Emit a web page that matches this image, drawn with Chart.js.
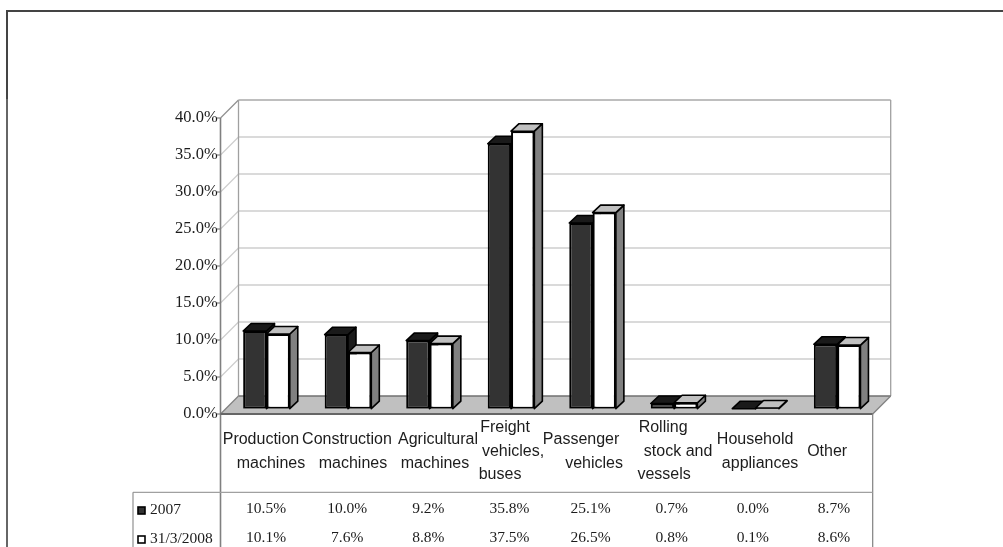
<!DOCTYPE html>
<html>
<head>
<meta charset="utf-8">
<title>Market shares by product group</title>
<script src="https://cdn.jsdelivr.net/npm/chart.js@4"></script>
<style>
  html, body { margin: 0; padding: 0; background: #fff; }
  canvas { display: block; }
</style>
</head>
<body>
<canvas id="shareChart" width="1003" height="547"></canvas>
<script>
// ─── Data ──────────────────────────────────────────────────────────────────────
const categories = [
  ['Production', 'machines'],
  ['Construction', 'machines'],
  ['Agricultural', 'machines'],
  ['Freight', 'vehicles,', 'buses'],
  ['Passenger', 'vehicles'],
  ['Rolling', 'stock and', 'vessels'],
  ['Household', 'appliances'],
  ['Other']
];
const seriesNames = ['2007', '31/3/2008'];
const values2007 = [10.5, 10.0, 9.2, 35.8, 25.1, 0.7, 0.0, 8.7];
const values2008 = [10.1, 7.6, 8.8, 37.5, 26.5, 0.8, 0.1, 8.6];
const yTicks = [0, 5, 10, 15, 20, 25, 30, 35, 40];

// Hand-set line offsets of the category captions, they don't sit centred
const captionShifts = [
  [-5.5, 4.5], [-1, 5], [8.5, 5.5], [-6, 2, -11],
  [-11.5, 1.5], [-11, 4, -10], [-0.5, 4.5], [-10]
];

// ─── Layout ────────────────────────────────────────────────────────────────────
const WALL_DX = 18, WALL_DY = 18;     // depth of the floor and side wall
const BAR_INSET_X = 5.2, BAR_INSET_Y = 5.3;  // bars stand inside the floor
const BAR_DX = 8, BAR_DY = 7.5;       // depth of each bar
const TABLE_RIGHT = 872.7, TABLE_LEFT = 133, TABLE_LINE_Y = 492.3;
const ROW_Y = [509, 538];

const SERIF = '"Liberation Serif", serif';
const SANS = '"Liberation Sans", sans-serif';
const TEXT = '#1c1c1c';

const faces = [
  { front: '#333333', top: '#1a1a1a', side: '#1a1a1a' },
  { front: '#ffffff', top: '#c0c0c0', side: '#808080' }
];

function line(ctx, x1, y1, x2, y2, color, width) {
  ctx.beginPath();
  ctx.moveTo(x1, y1);
  ctx.lineTo(x2, y2);
  ctx.strokeStyle = color;
  ctx.lineWidth = width;
  ctx.stroke();
}

function poly(ctx, pts, fill) {
  ctx.beginPath();
  pts.forEach((p, i) => i ? ctx.lineTo(p[0], p[1]) : ctx.moveTo(p[0], p[1]));
  ctx.closePath();
  ctx.fillStyle = fill;
  ctx.fill();
  ctx.strokeStyle = '#000';
  ctx.lineWidth = 1.6;
  ctx.lineJoin = 'round';
  ctx.stroke();
}

// ─── Outer frame, walls and floor ──────────────────────────────────────────────
const backdropPlugin = {
  id: 'backdrop',
  beforeDatasetsDraw(chart) {
    const { ctx, chartArea: area, scales } = chart;
    const left = area.left - BAR_INSET_X;
    const right = area.right - BAR_INSET_X;
    const floorY = area.bottom + BAR_INSET_Y;
    const y = scales.y;

    ctx.save();
    line(ctx, 6, 11, 1003, 11, '#444', 2);
    line(ctx, 7, 10, 7, 99, '#444', 2);
    line(ctx, 7, 99, 7, 547, '#666', 2);

    // gridlines run along the back wall and down the side wall
    yTicks.forEach(v => {
      const py = y.getPixelForValue(v) + BAR_INSET_Y;
      if (v > 0) {
        line(ctx, left + WALL_DX, py - WALL_DY, right + WALL_DX, py - WALL_DY, v === 40 ? '#a8a8a8' : '#cecece', 1.5);
        line(ctx, left, py, left + WALL_DX, py - WALL_DY, v === 40 ? '#909090' : '#cecece', 1.3);
      }
      line(ctx, left - 3.5, py, left, py, '#808080', 1.2);
    });

    const topBack = y.getPixelForValue(40) + BAR_INSET_Y - WALL_DY;
    line(ctx, left + WALL_DX, topBack, left + WALL_DX, floorY - WALL_DY, '#a0a0a0', 1.3);
    line(ctx, right + WALL_DX, topBack, right + WALL_DX, floorY - WALL_DY, '#a0a0a0', 1.3);

    ctx.beginPath();
    ctx.moveTo(left, floorY);
    ctx.lineTo(left + WALL_DX, floorY - WALL_DY);
    ctx.lineTo(right + WALL_DX, floorY - WALL_DY);
    ctx.lineTo(right, floorY);
    ctx.closePath();
    ctx.fillStyle = '#c0c0c0';
    ctx.fill();
    line(ctx, left + WALL_DX, floorY - WALL_DY, right + WALL_DX, floorY - WALL_DY, '#707070', 1.5);
    line(ctx, right, floorY, right + WALL_DX, floorY - WALL_DY, '#808080', 1.2);
    line(ctx, left, floorY, left + WALL_DX, floorY - WALL_DY, '#808080', 1.2);
    line(ctx, left, y.getPixelForValue(40) + BAR_INSET_Y, left, 547, '#808080', 1.6);
    line(ctx, left, floorY, right, floorY, '#666', 2);

    // top and side faces of the bars; the library paints the front faces on top
    chart.data.datasets.forEach((ds, d) => {
      chart.getDatasetMeta(d).data.forEach(bar => {
        const x0 = bar.x - bar.width / 2, x1 = bar.x + bar.width / 2;
        poly(ctx, [[x1, bar.base], [x1 + BAR_DX, bar.base - BAR_DY], [x1 + BAR_DX, bar.y - BAR_DY], [x1, bar.y]], faces[d].side);
        poly(ctx, [[x0, bar.y], [x0 + BAR_DX, bar.y - BAR_DY], [x1 + BAR_DX, bar.y - BAR_DY], [x1, bar.y]], faces[d].top);
      });
    });
    ctx.restore();
  }
};

// ─── Category captions and the data table under the plot ───────────────────────
const tablePlugin = {
  id: 'dataTable',
  afterDraw(chart) {
    const { ctx, scales } = chart;
    const x = scales.x;

    ctx.save();
    line(ctx, TABLE_RIGHT, 414, TABLE_RIGHT, 547, '#808080', 1.2);
    line(ctx, TABLE_LEFT, TABLE_LINE_Y, TABLE_RIGHT, TABLE_LINE_Y, '#a0a0a0', 1.2);
    line(ctx, TABLE_LEFT, TABLE_LINE_Y, TABLE_LEFT, 547, '#909090', 1.2);

    ctx.textBaseline = 'middle';
    ctx.textAlign = 'center';
    ctx.fillStyle = TEXT;
    ctx.font = '16px ' + SANS;
    categories.forEach((lines, i) => {
      const start = 451.5 - (lines.length - 1) * 23.5 / 2;
      lines.forEach((txt, n) => {
        ctx.fillText(txt, x.getPixelForValue(i) + captionShifts[i][n], start + n * 23.5);
      });
    });

    ctx.font = '15.5px ' + SERIF;
    [values2007, values2008].forEach((row, r) => {
      row.forEach((v, i) => {
        ctx.fillText(v.toFixed(1) + '%', x.getPixelForValue(i) - 0.4 * (i + 1), ROW_Y[r]);
      });
    });

    ctx.textAlign = 'left';
    seriesNames.forEach((name, r) => {
      ctx.fillStyle = faces[r].front;
      ctx.strokeStyle = '#000';
      ctx.lineWidth = 1.6;
      ctx.fillRect(138, ROW_Y[r] - 2, 7, 7);
      ctx.strokeRect(138, ROW_Y[r] - 2, 7, 7);
      ctx.fillStyle = TEXT;
      ctx.fillText(name, 150, ROW_Y[r] + 1);
    });
    ctx.restore();
  }
};

// ─── Chart ─────────────────────────────────────────────────────────────────────
new Chart(document.getElementById('shareChart'), {
  type: 'bar',
  data: {
    labels: categories.map(c => c.join(' ')),
    datasets: [values2007, values2008].map((values, d) => ({
      label: seriesNames[d],
      data: values,
      backgroundColor: faces[d].front,
      borderColor: '#000',
      borderWidth: 2,
      borderSkipped: false,
      categoryPercentage: 0.572,
      barPercentage: 1
    }))
  },
  options: {
    responsive: false,
    animation: false,
    layout: { padding: { left: 0, right: 125.1, top: 112.7, bottom: 0 } },
    plugins: {
      legend: { display: false },
      tooltip: { enabled: false }
    },
    scales: {
      x: {
        grid: { display: false },
        border: { display: false },
        ticks: { display: false },
        afterFit: scale => { scale.height = 138.3; }
      },
      y: {
        min: 0,
        max: 40,
        grid: { display: false, drawTicks: false },
        border: { display: false },
        ticks: {
          stepSize: 5,
          padding: 8,
          labelOffset: BAR_INSET_Y,
          color: TEXT,
          font: { family: SERIF, size: 16.5 },
          callback: v => v.toFixed(1) + '%'
        },
        afterFit: scale => { scale.width = 225.7; }
      }
    }
  },
  plugins: [backdropPlugin, tablePlugin]
});
</script>
</body>
</html>
